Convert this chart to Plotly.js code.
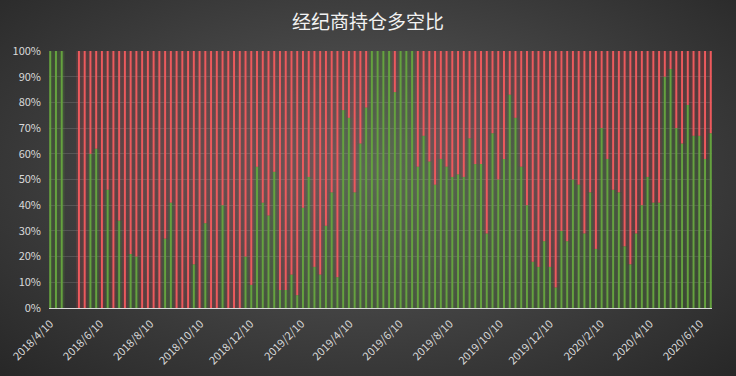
<!DOCTYPE html>
<html>
<head>
<meta charset="utf-8">
<script src="https://cdn.plot.ly/plotly-3.0.1.min.js"></script>
<style>
  html, body { margin: 0; padding: 0; }
  body {
    width: 736px; height: 376px; overflow: hidden;
    background: radial-gradient(ellipse farthest-corner at 50% 45%, #5b5b5b 0%, #474747 40%, #272727 100%);
  }
  #chart { width: 736px; height: 376px; }
</style>
</head>
<body>
<div id="chart"></div>
<script>
// ---- data ----
const startDate = '2018-04-10';   // first weekly observation
const weekCount = 116;
// share of long positions (%) per week, null = no data
const longPct = [
  100, 100, 100, null, null, 0, 0, 60, 62, 0,
  46, 0, 34, 0, 21, 20, 0, 0, 0, 0,
  27, 41, 0, 0, 0, 17, 0, 33, 0, 0,
  40, 0, 0, 0, 20, 9, 55, 41, 36, 53,
  7, 7, 13, 5, 39, 51, 16, 13, 32, 45,
  12, 77, 74, 45, 64, 78, 100, 100, 100, 100,
  84, 100, 100, 100, 55, 67, 57, 48, 58, 55,
  51, 52, 51, 66, 56, 56, 29, 68, 50, 58,
  83, 74, 55, 40, 18, 16, 26, 16, 8, 30,
  26, 50, 48, 29, 45, 23, 70, 58, 46, 45,
  24, 17, 29, 40, 51, 41, 41, 90, 93, 70,
  64, 79, 67, 67, 58, 68
];
const yTickVals = [0, 10, 20, 30, 40, 50, 60, 70, 80, 90, 100];
const yTickLabels = ['0%', '10%', '20%', '30%', '40%', '50%', '60%', '70%', '80%', '90%', '100%'];
const tickDates = ['2018-04-10','2018-06-10','2018-08-10','2018-10-10','2018-12-10',
  '2019-02-10','2019-04-10','2019-06-10','2019-08-10','2019-10-10','2019-12-10',
  '2020-02-10','2020-04-10','2020-06-10'];
const tickLabels = ['2018/4/10','2018/6/10','2018/8/10','2018/10/10','2018/12/10',
  '2019/2/10','2019/4/10','2019/6/10','2019/8/10','2019/10/10','2019/12/10',
  '2020/2/10','2020/4/10','2020/6/10'];
const titleText = '经纪商持仓多空比';

// ---- build ----
const DAY = 86400000;
const t0 = Date.parse(startDate + 'T00:00:00Z');
function iso(ms) { return new Date(ms).toISOString().slice(0, 19).replace('T', ' '); }
const dates = [];
for (let i = 0; i < weekCount; i++) dates.push(iso(t0 + i * 7 * DAY));
const shortPct = longPct.map(v => v === null ? null : 100 - v);

const GREEN = '#65a23f', RED = '#ec5a5d';
const common = { type: 'bar', x: dates, hoverinfo: 'skip' };
const traces = [
  Object.assign({}, common, { y: longPct, base: 0, width: 7 * DAY, marker: { color: 'rgba(100,160,60,0.20)' } }),
  Object.assign({}, common, { y: shortPct, base: longPct, width: 7 * DAY, marker: { color: 'rgba(230,85,90,0.17)' } }),
  Object.assign({}, common, { y: longPct, base: 0, width: 2.4 * DAY, marker: { color: GREEN } }),
  Object.assign({}, common, { y: shortPct, base: longPct, width: 2.4 * DAY, marker: { color: RED } })
];

const FONT = 'Noto Sans CJK SC, sans-serif';
const layout = {
  width: 736, height: 376,
  margin: { l: 49, r: 24, t: 51, b: 68 },
  paper_bgcolor: 'rgba(0,0,0,0)',
  plot_bgcolor: 'rgba(0,0,0,0)',
  barmode: 'overlay',
  showlegend: false,
  title: {
    text: titleText,
    x: 0.5, xanchor: 'center',
    y: 1 - 22 / 376, yanchor: 'middle',
    font: { family: FONT, size: 19, color: '#f2f2f2' }
  },
  xaxis: {
    type: 'date',
    range: [iso(t0 - 1.5 * DAY), iso(t0 + ((weekCount - 1) * 7 + 1.5) * DAY)],
    tickmode: 'array', tickvals: tickDates, ticktext: tickLabels,
    tickangle: -45,
    tickfont: { family: FONT, size: 11, color: '#d9d9d9' },
    showgrid: false, zeroline: false,
    showline: true, linecolor: '#d9d9d9', linewidth: 1,
    ticks: '', ticklabelstandoff: 4
  },
  yaxis: {
    range: [0, 100],
    tickmode: 'array', tickvals: yTickVals, ticktext: yTickLabels,
    tickfont: { family: FONT, size: 11, color: '#d9d9d9' },
    gridcolor: 'rgba(255,255,255,0.13)', gridwidth: 1,
    zeroline: false, showline: false, ticks: '',
    ticklabelstandoff: 7
  }
};

Plotly.newPlot('chart', traces, layout, { displayModeBar: false, staticPlot: true });
</script>
</body>
</html>
